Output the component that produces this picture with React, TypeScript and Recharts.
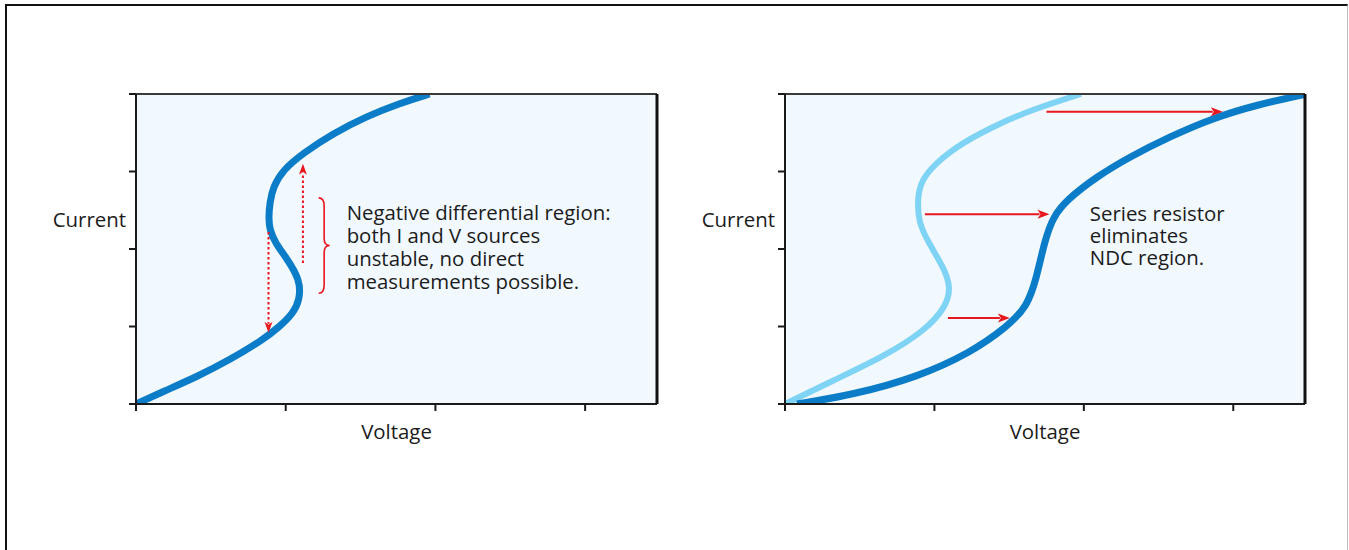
import React from 'react';
import { LineChart, Line, XAxis, YAxis, CartesianGrid, ReferenceLine, ReferenceDot } from 'recharts';

// ---- data ----
const voltageTicks = [0, 1, 2, 3];
const currentTicks = [0, 1, 2, 3, 4];
const voltageDomain = [0, 3.48];
const currentDomain = [0, 4];

const leftCurrent = [0, 0.16, 0.35, 0.57, 0.83, 1.0, 1.17, 1.34, 1.6, 1.9, 2.07, 2.25, 2.4, 2.59, 2.8, 3.02, 3.235, 3.49, 3.71, 3.88, 4.0];
const leftVoltage = [0, 0.18, 0.405, 0.627, 0.849, 0.96, 1.049, 1.093, 1.098, 1.0, 0.933, 0.892, 0.886, 0.893, 0.915, 0.982, 1.115, 1.315, 1.538, 1.76, 1.96];

const rightLightCurrent = [0, 0.31, 0.61, 0.95, 1.26, 1.51, 1.77, 2.08, 2.35, 2.62, 2.81, 3.02, 3.32, 3.58, 3.79, 4.0];
const rightLightVoltage = [0, 0.33, 0.66, 0.94, 1.08, 1.11, 1.06, 0.96, 0.893, 0.888, 0.9, 0.96, 1.14, 1.39, 1.64, 1.98];

const rightDarkCurrent = [0, 0.12, 0.35, 0.66, 1.0, 1.26, 1.6, 2.116, 2.417, 2.632, 2.933, 3.19, 3.45, 3.69, 3.86, 4.0];
const rightDarkVoltage = [0.08, 0.46, 0.89, 1.24, 1.49, 1.62, 1.68, 1.739, 1.795, 1.884, 2.085, 2.308, 2.575, 2.865, 3.155, 3.49];

// arrows: [fromV, fromI, toV, toI]
const leftArrows = [
  [1.115, 1.82, 1.115, 3.1],
  [0.885, 2.22, 0.885, 0.92],
];
const leftBrace = [1.22, 2.66, 1.22, 1.43];
const rightArrows = [
  [1.75, 3.77, 2.93, 3.77],
  [0.936, 2.45, 1.77, 2.45],
  [1.09, 1.11, 1.505, 1.11],
];
const leftNote = ['Negative differential region:', 'both I and V sources', 'unstable, no direct', 'measurements possible.'];
const leftNoteAt = [1.407, 2.477];
const rightNote = ['Series resistor', 'eliminates', 'NDC region.'];
const rightNoteAt = [2.04, 2.46];

const toPoints = (vs: number[], is: number[]) => vs.map((v, k) => ({ v, i: is[k] }));

const FONT = '"Open Sans", sans-serif';
const RED = '#e8161d';
const DARK = '#0a7cc8';
const LIGHT = '#7fd3f4';
const TEXT = '#1b1b1b';

const makeArrow = (dashed: boolean) => (props: any) => {
  const { x1, y1, x2, y2 } = props;
  const dx = x2 - x1;
  const dy = y2 - y1;
  const len = Math.hypot(dx, dy) || 1;
  const ux = dx / len;
  const uy = dy / len;
  const head = dashed ? 11 : 12;
  const half = dashed ? 4 : 4.5;
  const bx = x2 - ux * head;
  const by = y2 - uy * head;
  return (
    <g>
      <line
        x1={x1}
        y1={y1}
        x2={bx + ux * 2}
        y2={by + uy * 2}
        stroke={RED}
        strokeWidth={2}
        strokeDasharray={dashed ? '2.5 2.5' : undefined}
      />
      <polygon
        points={`${x2},${y2} ${bx - uy * half},${by + ux * half} ${bx + ux * 3},${by + uy * 3} ${bx + uy * half},${by - ux * half}`}
        fill={RED}
      />
    </g>
  );
};

const braceShape = (props: any) => {
  const { x1, y1, y2 } = props;
  const top = Math.min(y1, y2);
  const bot = Math.max(y1, y2);
  const mid = (top + bot) / 2;
  const w = 11;
  const xm = x1 + w * 0.5;
  const d = `M ${x1} ${top} Q ${xm} ${top} ${xm} ${top + 8} L ${xm} ${mid - 7} Q ${xm} ${mid} ${x1 + w} ${mid} Q ${xm} ${mid} ${xm} ${mid + 7} L ${xm} ${bot - 8} Q ${xm} ${bot} ${x1} ${bot}`;
  return <path d={d} fill="none" stroke={RED} strokeWidth={1.6} />;
};

const makeNote = (lines: string[], lineGap: number) => (props: any) => {
  const { cx, cy } = props;
  return (
    <text x={cx} y={cy} fontFamily={FONT} fontSize={20.4} fill={TEXT} dominantBaseline="central">
      {lines.map((l, k) => (
        <tspan key={k} x={cx} y={cy + k * lineGap}>
          {l}
        </tspan>
      ))}
    </text>
  );
};

const currentLabel = (props: any) => {
  const { x, y, width, height } = props.viewBox;
  return (
    <text x={x + width - 10} y={y + height * 0.403} textAnchor="end" dominantBaseline="central" fontFamily={FONT} fontSize={20.4} fill={TEXT}>
      Current
    </text>
  );
};

const voltageLabel = (props: any) => {
  const { x, y, width } = props.viewBox;
  return (
    <text x={x + width / 2} y={y + 27} textAnchor="middle" dominantBaseline="central" fontFamily={FONT} fontSize={20.4} fill={TEXT}>
      Voltage
    </text>
  );
};

const AXIS = '#1a1a1a';

function Panel(props: {
  series: { data: { v: number; i: number }[]; color: string; width: number }[];
  children?: React.ReactNode;
  marginRight: number;
}) {
  return (
    <LineChart width={700} height={550} margin={{ top: 93, left: 135, right: props.marginRight - 1, bottom: 106 }}>
      <CartesianGrid fill="#f1f8fe" horizontal={false} vertical={false} stroke="none" />
      <XAxis
        xAxisId={0}
        type="number"
        dataKey="v"
        domain={voltageDomain}
        ticks={voltageTicks}
        allowDataOverflow
        height={40}
        tickSize={7}
        tickLine={{ stroke: AXIS, strokeWidth: 2 }}
        axisLine={{ stroke: AXIS, strokeWidth: 2 }}
        tickFormatter={() => ''}
        label={{ content: voltageLabel }}
      />
      <XAxis
        xAxisId="top"
        orientation="top"
        type="number"
        domain={voltageDomain}
        allowDataOverflow
        height={1}
        tick={false}
        tickLine={false}
        axisLine={{ stroke: '#3a3a3a', strokeWidth: 2 }}
      />
      <YAxis
        yAxisId={0}
        type="number"
        dataKey="i"
        domain={currentDomain}
        ticks={currentTicks}
        allowDataOverflow
        width={1}
        tickSize={7}
        tickLine={{ stroke: AXIS, strokeWidth: 2 }}
        axisLine={{ stroke: AXIS, strokeWidth: 2 }}
        tickFormatter={() => ''}
        label={{ content: currentLabel }}
      />
      <YAxis
        yAxisId="right"
        orientation="right"
        type="number"
        domain={currentDomain}
        allowDataOverflow
        width={1}
        tick={false}
        tickLine={false}
        axisLine={{ stroke: '#111', strokeWidth: 3 }}
      />
      {props.series.map((s, k) => (
        <Line
          key={k}
          data={s.data}
          dataKey="i"
          type="basis"
          stroke={s.color}
          strokeWidth={s.width}
          dot={false}
          activeDot={false}
          isAnimationActive={false}
        />
      ))}
      {props.children}
    </LineChart>
  );
}

export default function App() {
  const leftSeries = [{ data: toPoints(leftVoltage, leftCurrent), color: DARK, width: 7 }];
  const rightSeries = [
    { data: toPoints(rightLightVoltage, rightLightCurrent), color: LIGHT, width: 6 },
    { data: toPoints(rightDarkVoltage, rightDarkCurrent), color: DARK, width: 7 },
  ];
  return (
    <div style={{ position: 'absolute', left: 0, top: 0, width: 1349, height: 550, overflow: 'hidden', background: '#fff' }}>
      <div
        style={{
          position: 'absolute',
          left: 5,
          top: 4,
          width: 1340,
          height: 600,
          borderLeft: '2px solid #111',
          borderTop: '2px solid #111',
          borderRight: '1px solid #bdbdbd',
        }}
      />
      <div style={{ position: 'absolute', left: 0, top: 0 }}>
        <Panel series={leftSeries} marginRight={43}>
          {leftArrows.map((a, k) => (
            <ReferenceLine
              key={'la' + k}
              segment={[
                { x: a[0], y: a[1] },
                { x: a[2], y: a[3] },
              ]}
              shape={makeArrow(true)}
            />
          ))}
          <ReferenceLine
            segment={[
              { x: leftBrace[0], y: leftBrace[1] },
              { x: leftBrace[2], y: leftBrace[3] },
            ]}
            shape={braceShape}
          />
          <ReferenceDot x={leftNoteAt[0]} y={leftNoteAt[1]} r={0} shape={makeNote(leftNote, 23)} />
        </Panel>
      </div>
      <div style={{ position: 'absolute', left: 649, top: 0 }}>
        <Panel series={rightSeries} marginRight={44}>
          {rightArrows.map((a, k) => (
            <ReferenceLine
              key={'ra' + k}
              segment={[
                { x: a[0], y: a[1] },
                { x: a[2], y: a[3] },
              ]}
              shape={makeArrow(false)}
            />
          ))}
          <ReferenceDot x={rightNoteAt[0]} y={rightNoteAt[1]} r={0} shape={makeNote(rightNote, 22)} />
        </Panel>
      </div>
    </div>
  );
}
